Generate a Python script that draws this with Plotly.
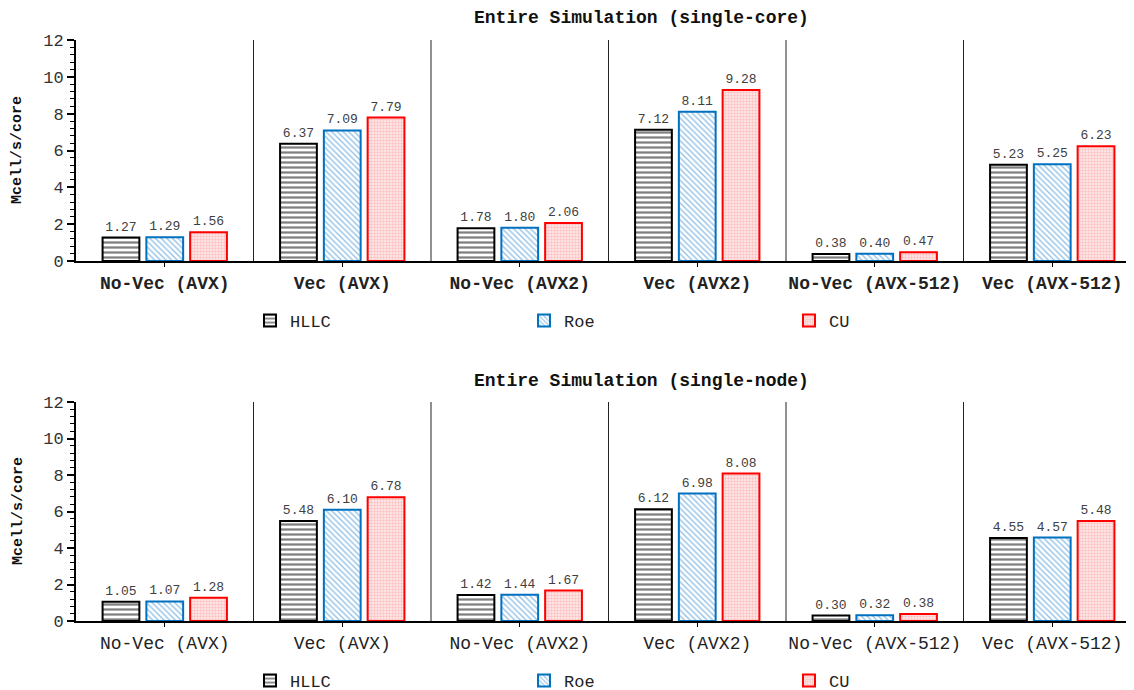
import plotly.graph_objects as go

categories = ["No-Vec (AVX)", "Vec (AVX)", "No-Vec (AVX2)", "Vec (AVX2)", "No-Vec (AVX-512)", "Vec (AVX-512)"]
series_names = ["HLLC", "Roe", "CU"]

core_hllc = [1.27, 6.37, 1.78, 7.12, 0.38, 5.23]
core_roe = [1.29, 7.09, 1.80, 8.11, 0.40, 5.25]
core_cu = [1.56, 7.79, 2.06, 9.28, 0.47, 6.23]

node_hllc = [1.05, 5.48, 1.42, 6.12, 0.30, 4.55]
node_roe = [1.07, 6.10, 1.44, 6.98, 0.32, 4.57]
node_cu = [1.28, 6.78, 1.67, 8.08, 0.38, 5.48]

titles = ["Entire Simulation (single-core)", "Entire Simulation (single-node)"]
y_title = "Mcell/s/core"

W, H = 1134, 690
OFF = 8  # page body margin offset
L = 76 - OFF
FONT = "Liberation Mono, Courier New, monospace"
plot_w = W - L

def px_x(p):
    return (p - OFF - L) / plot_w

def px_y(p):
    return 1 - (p - OFF) / H

styles = {
    "HLLC": dict(line="#000000", fg="#000000", bg="#ffffff", shape="-", size=5, sol=0.45),
    "Roe": dict(line="#0070C0", fg="#2a86d0", bg="#ffffff", shape="\\", size=4, sol=0.35),
    "CU": dict(line="#FF0000", fg="#ff8a8a", bg="#fde3e3", shape="+", size=3, sol=0.3),
}
legend_px = {"HLLC": 250, "Roe": 524, "CU": 789}
legend_ids = ["legend", "legend2", "legend3", "legend4", "legend5", "legend6"]

fig = go.Figure()
counter = [0]

def add_bars(vals_list, xa, ya, legend_y):
    for name, vals in zip(series_names, vals_list):
        s = styles[name]
        lid = legend_ids[counter[0]]
        counter[0] += 1
        fig.add_trace(go.Bar(
            x=categories, y=vals, name=name, xaxis=xa, yaxis=ya, legend=lid,
            marker=dict(color=s["bg"], line=dict(color=s["line"], width=2),
                        pattern=dict(shape=s["shape"], fgcolor=s["fg"], bgcolor=s["bg"],
                                     size=s["size"], solidity=s["sol"], fillmode="overlay")),
            texttemplate="%{y:.2f}", textposition="outside", cliponaxis=False,
            textfont=dict(family=FONT, size=13, color="#404040"),
        ))
        fig.layout[lid] = dict(orientation="h", x=px_x(legend_px[name]), xanchor="left",
                               y=px_y(legend_y), yanchor="middle", itemwidth=30,
                               bgcolor="rgba(0,0,0,0)",
                               font=dict(family=FONT, size=17, color="#222222"))

add_bars([core_hllc, core_roe, core_cu], "x", "y", 321)
add_bars([node_hllc, node_roe, node_cu], "x2", "y2", 681)

xr = [-0.5, -0.5 + plot_w / 177.5]
top_dom = [px_y(261), px_y(40)]
bot_dom = [px_y(621), px_y(402)]

def xaxis(anchor, bold):
    return dict(domain=[0, 1], anchor=anchor, type="category", range=xr,
                showline=True, linecolor="#000000", linewidth=2,
                ticks="outside", ticklen=4, tickcolor="#000000",
                showgrid=False, zeroline=False,
                tickfont=dict(family=FONT, size=18, color="#222222",
                              weight="bold" if bold else "normal"))

def yaxis(anchor, dom):
    return dict(domain=dom, anchor=anchor, range=[0, 12], dtick=2,
                showline=True, linecolor="#000000", linewidth=2,
                ticks="outside", ticklen=7, tickwidth=1.5, tickcolor="#000000",
                minor=dict(dtick=0.4, ticks="outside", ticklen=4, tickcolor="#000000", tickwidth=1),
                showgrid=False, zeroline=False,
                tickfont=dict(family=FONT, size=17, color="#333333"))

fig.update_layout(
    width=W, height=H,
    margin=dict(l=L, r=0, t=0, b=0, autoexpand=False),
    paper_bgcolor="white", plot_bgcolor="white",
    barmode="group", bargap=0.26, bargroupgap=0.16,
    xaxis=xaxis("y", True), yaxis=yaxis("x", top_dom),
    xaxis2=xaxis("y2", False), yaxis2=yaxis("x2", bot_dom),
    showlegend=True,
)

shapes = []
for xref, yref in (("x", "y"), ("x2", "y2")):
    for i in range(len(categories) - 1):
        shapes.append(dict(type="line", xref=xref, yref=yref, x0=i + 0.5, x1=i + 0.5, y0=0, y1=12,
                           line=dict(color="#222222", width=1)))
fig.update_layout(shapes=shapes)

annotations = []
for t, ypix in zip(titles, (18, 381)):
    annotations.append(dict(text="<b>" + t + "</b>", xref="paper", yref="paper",
                            x=px_x(641), y=px_y(ypix), xanchor="center", yanchor="middle",
                            showarrow=False, font=dict(family=FONT, size=18, color="#111111")))
for ypix in (150, 511):
    annotations.append(dict(text="<b>" + y_title + "</b>", xref="paper", yref="paper",
                            x=px_x(18), y=px_y(ypix), xanchor="center", yanchor="middle",
                            textangle=-90, showarrow=False,
                            font=dict(family=FONT, size=15, color="#111111")))
fig.update_layout(annotations=annotations)

fig.write_html("out.html")
